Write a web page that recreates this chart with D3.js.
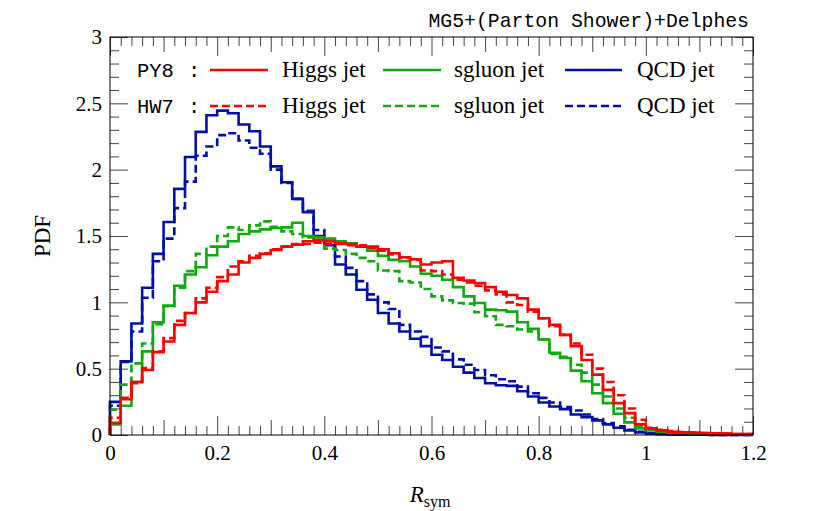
<!DOCTYPE html>
<meta charset="utf-8">
<style>
body { margin: 0; background: #fff; }
svg text { font-family: "Liberation Serif", "DejaVu Serif", serif; }
.mono { font-family: "Liberation Mono", "DejaVu Sans Mono", monospace; }
.axis text { font-size: 21px; fill: #000; }
.axis line { stroke: #444; }
</style>
<svg width="825" height="511"></svg>
<script src="https://d3js.org/d3.v7.min.js"></script>
<script>

// 60 bins of width 0.02 from 0 to 1.2
var binWidth = 0.02;
var binEdges = d3.range(61).map(function(i) { return +(i * binWidth).toFixed(2); });

var higgsPY8 = [0.09, 0.27, 0.40, 0.49, 0.625, 0.705, 0.83, 0.92, 1.00, 1.08,
  1.16, 1.21, 1.30, 1.335, 1.365, 1.395, 1.42, 1.435, 1.46, 1.47,
  1.46, 1.445, 1.44, 1.42, 1.42, 1.40, 1.37, 1.34, 1.325, 1.285,
  1.30, 1.31, 1.185, 1.165, 1.145, 1.115, 1.08, 1.055, 1.03, 0.945,
  0.88, 0.83, 0.755, 0.67, 0.565, 0.455, 0.34, 0.24, 0.165, 0.08,
  0.05, 0.035, 0.025, 0.02, 0.018, 0.015, 0.012, 0.01, 0.008, 0.007];
var higgsHW7 = [0.13, 0.28, 0.39, 0.505, 0.63, 0.73, 0.86, 0.92, 1.03, 1.11,
  1.19, 1.27, 1.31, 1.35, 1.37, 1.40, 1.42, 1.44, 1.44, 1.45,
  1.44, 1.44, 1.43, 1.43, 1.41, 1.39, 1.36, 1.335, 1.32, 1.24,
  1.235, 1.21, 1.17, 1.15, 1.125, 1.09, 1.06, 1.00, 0.98, 0.93,
  0.88, 0.82, 0.755, 0.69, 0.605, 0.50, 0.40, 0.30, 0.20, 0.115,
  0.055, 0.04, 0.03, 0.022, 0.018, 0.015, 0.012, 0.01, 0.008, 0.007];
var sgluonPY8 = [0.08, 0.22, 0.40, 0.63, 0.85, 0.975, 1.125, 1.21, 1.265, 1.355,
  1.42, 1.46, 1.515, 1.535, 1.55, 1.56, 1.565, 1.60, 1.50, 1.49,
  1.48, 1.46, 1.445, 1.42, 1.39, 1.35, 1.32, 1.31, 1.27, 1.215,
  1.20, 1.17, 1.115, 1.045, 0.995, 0.945, 0.94, 0.93, 0.85, 0.80,
  0.72, 0.62, 0.58, 0.485, 0.405, 0.315, 0.24, 0.16, 0.095, 0.05,
  0.035, 0.025, 0.02, 0.015, 0.012, 0.01, 0.008, 0.007, 0.006, 0.005];
var sgluonHW7 = [0.19, 0.38, 0.54, 0.69, 0.835, 0.97, 1.11, 1.235, 1.365, 1.42,
  1.50, 1.565, 1.545, 1.58, 1.61, 1.57, 1.535, 1.515, 1.49, 1.46,
  1.405, 1.395, 1.365, 1.335, 1.31, 1.24, 1.235, 1.16, 1.15, 1.10,
  1.045, 1.015, 0.995, 0.99, 0.925, 0.895, 0.83, 0.82, 0.795, 0.78,
  0.72, 0.61, 0.59, 0.53, 0.47, 0.38, 0.29, 0.20, 0.13, 0.07,
  0.045, 0.03, 0.022, 0.018, 0.014, 0.012, 0.01, 0.008, 0.006, 0.005];
var qcdPY8 = [0.25, 0.555, 0.84, 1.11, 1.365, 1.605, 1.855, 2.095, 2.285, 2.41,
  2.445, 2.425, 2.34, 2.29, 2.175, 2.025, 1.905, 1.78, 1.68, 1.50,
  1.43, 1.285, 1.21, 1.095, 1.02, 0.92, 0.84, 0.78, 0.725, 0.67,
  0.605, 0.565, 0.515, 0.47, 0.43, 0.39, 0.375, 0.37, 0.33, 0.29,
  0.245, 0.215, 0.195, 0.155, 0.135, 0.11, 0.08, 0.055, 0.035, 0.02,
  0.01, 0.006, 0.004, 0.003, 0.002, 0.002, 0.001, 0.001, 0.001, 0.001];
var qcdHW7 = [0.22, 0.55, 0.78, 1.035, 1.31, 1.48, 1.71, 1.91, 2.105, 2.175,
  2.26, 2.275, 2.22, 2.165, 2.12, 2.0, 1.9, 1.78, 1.69, 1.545,
  1.46, 1.345, 1.26, 1.16, 1.06, 1.0, 0.95, 0.83, 0.78, 0.74,
  0.66, 0.63, 0.57, 0.53, 0.49, 0.45, 0.42, 0.405, 0.365, 0.315,
  0.28, 0.245, 0.21, 0.185, 0.155, 0.12, 0.09, 0.065, 0.04, 0.025,
  0.012, 0.007, 0.005, 0.003, 0.002, 0.002, 0.001, 0.001, 0.001, 0.001];

var xTicks = [0, 0.2, 0.4, 0.6, 0.8, 1, 1.2];
var yTicks = [0, 0.5, 1, 1.5, 2, 2.5, 3];

var series = [
  {name: "QCD jet", gen: "HW7", values: qcdHW7, color: "#0010a8", dash: "8,4"},
  {name: "QCD jet", gen: "PY8", values: qcdPY8, color: "#0010a8", dash: null},
  {name: "sgluon jet", gen: "HW7", values: sgluonHW7, color: "#10aa10", dash: "8,4"},
  {name: "sgluon jet", gen: "PY8", values: sgluonPY8, color: "#10aa10", dash: null},
  {name: "Higgs jet", gen: "HW7", values: higgsHW7, color: "#ff0000", dash: "8,4"},
  {name: "Higgs jet", gen: "PY8", values: higgsPY8, color: "#ff0000", dash: null}
];

var svg = d3.select("svg"),
    margin = {top: 37, right: 72, bottom: 76, left: 110},
    width = +svg.attr("width") - margin.left - margin.right,
    height = +svg.attr("height") - margin.top - margin.bottom;

var x = d3.scaleLinear().domain([0, 1.2]).range([margin.left, margin.left + width]);
var y = d3.scaleLinear().domain([0, 3]).range([margin.top + height, margin.top]);

// axes: major, medium and minor ticks, drawn inward on all four sides
var xMinor = d3.range(61).map(function(i) { return i * 0.02; }).filter(function(v, i) { return i % 5 != 0; });
var xMid = [0.1, 0.3, 0.5, 0.7, 0.9, 1.1];
var yMinor = d3.range(31).map(function(i) { return i * 0.1; }).filter(function(v, i) { return i % 5 != 0; });
var fmt = d3.format("~g");

function addAxis(axis, tx, ty) {
  var g = svg.append("g").attr("class", "axis")
    .attr("transform", "translate(" + tx + "," + ty + ")")
    .call(axis);
  g.select(".domain").remove();
  return g;
}

var bottom = margin.top + height, right = margin.left + width;
addAxis(d3.axisBottom(x).tickValues(xMinor).tickSize(-9).tickFormat(""), 0, bottom);
addAxis(d3.axisBottom(x).tickValues(xMid).tickSize(-15).tickFormat(""), 0, bottom);
addAxis(d3.axisBottom(x).tickValues(xTicks).tickSize(-19).tickPadding(7).tickFormat(fmt), 0, bottom);
addAxis(d3.axisTop(x).tickValues(xMinor).tickSize(-9).tickFormat(""), 0, margin.top);
addAxis(d3.axisTop(x).tickValues(xMid).tickSize(-15).tickFormat(""), 0, margin.top);
addAxis(d3.axisTop(x).tickValues(xTicks).tickSize(-19).tickFormat(""), 0, margin.top);
addAxis(d3.axisLeft(y).tickValues(yMinor).tickSize(-9).tickFormat(""), margin.left, 0);
addAxis(d3.axisLeft(y).tickValues(yTicks).tickSize(-18).tickPadding(8).tickFormat(fmt), margin.left, 0);
addAxis(d3.axisRight(y).tickValues(yMinor).tickSize(-9).tickFormat(""), right, 0);
addAxis(d3.axisRight(y).tickValues(yTicks).tickSize(-18).tickFormat(""), right, 0);

svg.selectAll(".axis text").attr("dy", null);
svg.selectAll(".axis .tick text").each(function() {
  var t = d3.select(this);
  if (t.attr("y") && +t.attr("y") > 0) t.attr("dy", "0.85em");
  else t.attr("dy", "0.33em");
});

// histograms
var line = d3.line().curve(d3.curveStepAfter)
  .x(function(d) { return x(d[0]); })
  .y(function(d) { return y(d[1]); });

series.forEach(function(s) {
  var pts = [[0, 0]];
  s.values.forEach(function(v, i) { pts.push([binEdges[i], v]); });
  pts.push([binEdges[60], s.values[59]]);
  svg.append("path")
    .attr("d", line(pts))
    .attr("fill", "none")
    .attr("stroke", s.color)
    .attr("stroke-width", 2.6)
    .attr("stroke-dasharray", s.dash);
});

// frame
svg.append("rect")
  .attr("x", margin.left).attr("y", margin.top)
  .attr("width", width).attr("height", height)
  .attr("fill", "none").attr("stroke", "#000").attr("stroke-width", 1);

// legend
var legendRows = [{gen: "PY8", dash: null, y: 70}, {gen: "HW7", dash: "8,4", y: 106}];
var legendCols = [
  {name: "Higgs jet", color: "#ff0000", x1: 210, x2: 268, tx: 282},
  {name: "sgluon jet", color: "#10aa10", x1: 383, x2: 441, tx: 454},
  {name: "QCD jet", color: "#0010a8", x1: 565, x2: 622, tx: 637}
];
legendRows.forEach(function(r) {
  svg.append("text").attr("class", "mono").attr("x", 137).attr("y", r.y + 7)
    .style("font-size", "20.5px").text(r.gen);
  svg.append("text").attr("class", "mono").attr("x", 188).attr("y", r.y + 7)
    .style("font-size", "20.5px").text(":");
  legendCols.forEach(function(c) {
    svg.append("line").attr("x1", c.x1).attr("x2", c.x2).attr("y1", r.y).attr("y2", r.y)
      .attr("stroke", c.color).attr("stroke-width", 2.6).attr("stroke-dasharray", r.dash);
    svg.append("text").attr("x", c.tx).attr("y", r.y + 7)
      .style("font-size", "23px").text(c.name);
  });
});

// titles
svg.append("text").attr("class", "mono").attr("x", 749).attr("y", 27)
  .attr("text-anchor", "end").style("font-size", "19.8px")
  .text("MG5+(Parton Shower)+Delphes");

svg.append("text")
  .attr("transform", "translate(50," + y(1.5) + ") rotate(-90)")
  .attr("text-anchor", "middle").style("font-size", "23px").text("PDF");

var xl = svg.append("text").attr("x", 430).attr("y", 502).attr("text-anchor", "middle")
  .style("font-size", "23px");
xl.append("tspan").style("font-style", "italic").text("R");
xl.append("tspan").attr("dy", 5).style("font-size", "16px").text("sym");

</script>
